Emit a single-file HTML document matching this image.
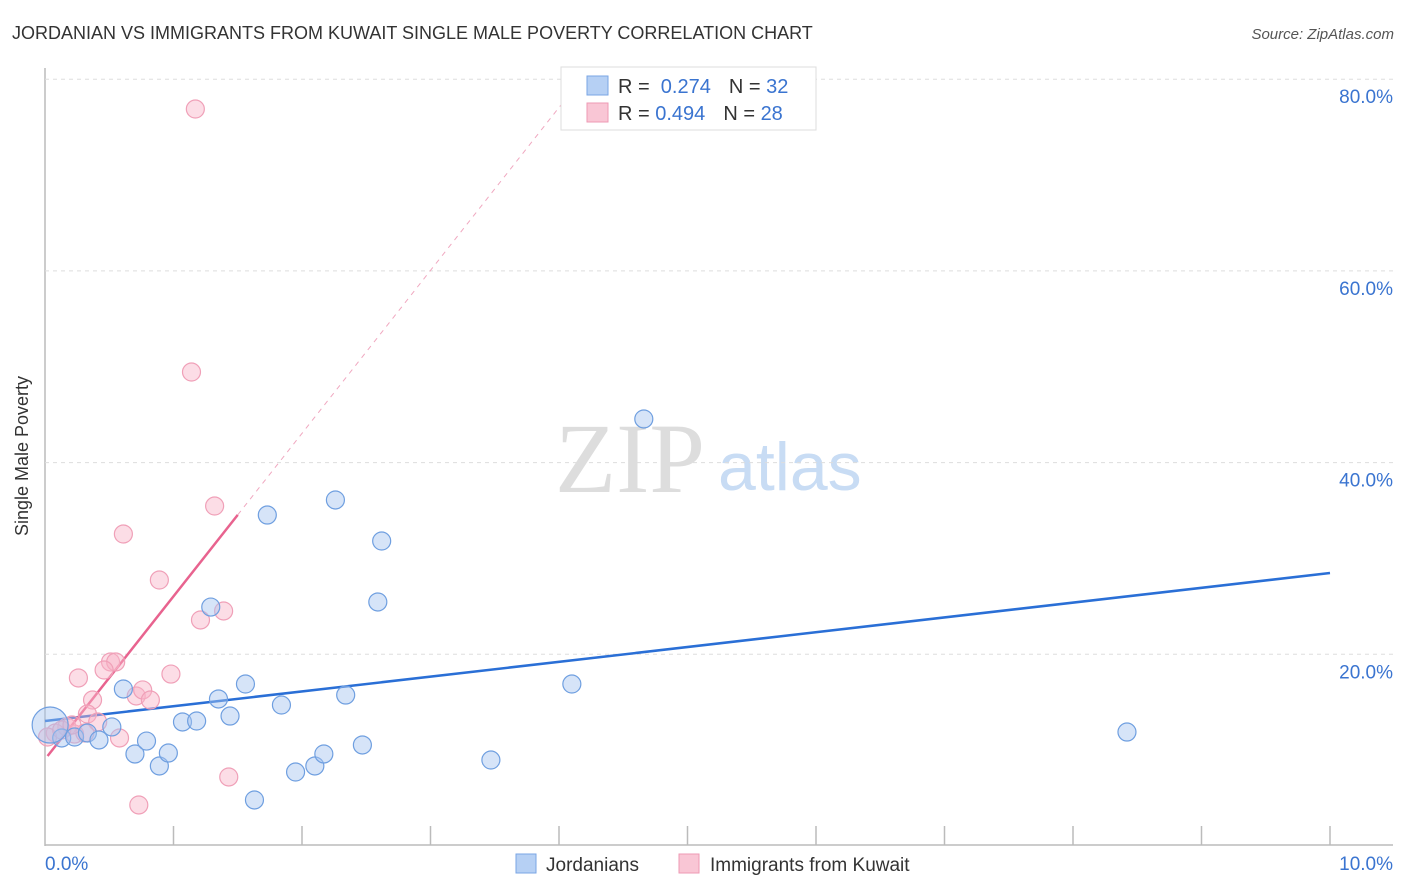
<!DOCTYPE html>
<html><head><meta charset="utf-8"><style>
body{margin:0;background:#fff;font-family:"Liberation Sans",sans-serif;}
#wrap{position:relative;width:1406px;height:892px;overflow:hidden}
</style></head><body>
<div id="wrap">
<svg id="svg" width="1406" height="892" xmlns="http://www.w3.org/2000/svg">
<text x="12" y="39" font-size="18" fill="#333">JORDANIAN VS IMMIGRANTS FROM KUWAIT SINGLE MALE POVERTY CORRELATION CHART</text>
<text x="1394" y="39" font-size="15" fill="#555" font-style="italic" text-anchor="end">Source: ZipAtlas.com</text>
<text x="28" y="456" font-size="18" fill="#333" text-anchor="middle" transform="rotate(-90 28 456)">Single Male Poverty</text>
<text x="555" y="492" font-size="100" fill="#ddd" font-family="Liberation Serif,serif">ZIP</text>
<text x="718" y="490" font-size="68" fill="#c8dcf4">atlas</text>
<g id="grid"></g><g id="lines"></g><g id="pts"></g>
<g>
<rect x="561" y="67" width="255" height="63" fill="#fff" stroke="#ddd"/>
<rect x="587" y="76" width="21" height="19" fill="#b6d0f4" stroke="#7aa6e4"/>
<rect x="587" y="103" width="21" height="19" fill="#f9c6d5" stroke="#ee9ab4"/>
<text x="618" y="93" font-size="20" fill="#333">R = <tspan fill="#3a74d0">&#160;0.274</tspan><tspan dx="18">N = </tspan><tspan fill="#3a74d0">32</tspan></text>
<text x="618" y="120" font-size="20" fill="#333">R = <tspan fill="#3a74d0">0.494</tspan><tspan dx="18">N = </tspan><tspan fill="#3a74d0">28</tspan></text>
</g>
<g>
<rect x="516" y="854" width="20" height="19" fill="#b6d0f4" stroke="#7aa6e4"/>
<text x="546" y="871" font-size="19" fill="#333">Jordanians</text>
<rect x="679" y="854" width="20" height="19" fill="#f9c6d5" stroke="#ee9ab4"/>
<text x="710" y="871" font-size="19" fill="#333">Immigrants from Kuwait</text>
</g>
</svg>
</div>
<script>
const xTicks=[0,1,2,3,4,5,6,7,8,9,10];
const yTicks=[20,40,60,80];
const yTickLabels=["20.0%","40.0%","60.0%","80.0%"];
const xLabels=["0.0%","10.0%"];
const blueX=[0.13,0.23,0.33,0.42,0.52,0.61,0.70,0.79,0.89,0.96,1.07,1.18,1.29,1.35,1.44,1.56,1.63,1.73,1.84,1.95,2.10,2.17,2.26,2.34,2.47,2.59,2.62,3.47,4.10,4.66,8.42,0.04];
const blueY=[11.27,11.37,11.79,11.06,12.42,16.38,9.60,10.95,8.35,9.70,12.94,13.04,24.93,15.34,13.56,16.90,4.80,34.53,14.71,7.72,8.35,9.60,36.10,15.75,10.54,25.46,31.82,8.97,16.90,44.55,11.89,12.62];
const pinkX=[1.17,1.14,0.61,1.32,0.89,1.39,1.21,0.51,0.55,0.46,0.26,0.98,0.37,0.71,0.76,0.82,0.33,0.41,0.58,0.17,0.08,0.02,1.43,0.73,0.23,0.13,0.31,0.21];
const pinkY=[76.89,49.45,32.55,35.47,27.75,24.52,23.58,19.20,19.20,18.36,17.53,17.94,15.23,15.65,16.28,15.23,13.77,12.94,11.27,12.42,11.79,11.37,7.20,4.28,11.68,12.10,11.79,12.62];
const blueTrend=[13.04,1.544]; // intercept, slope
const pinkTrend=[9.05,17.0];
const NS="http://www.w3.org/2000/svg";
const X=v=>45+v*128.5, Y=v=>846-v*9.585;
function mk(t,a,p){const e=document.createElementNS(NS,t);for(const k in a)e.setAttribute(k,a[k]);p.appendChild(e);return e;}
const grid=document.getElementById('grid'),lines=document.getElementById('lines'),pts=document.getElementById('pts');
let ax=mk('line',{x1:45,y1:68,x2:45,y2:846,stroke:'#bbb','stroke-width':1.5},grid);

let bx=mk('line',{x1:45,y1:845,x2:1393,y2:845,stroke:'#bbb','stroke-width':1.5},grid);

yTicks.forEach((v,i)=>{
 let g=mk('line',{x1:45,y1:Y(v),x2:1393,y2:Y(v),stroke:'#ddd','stroke-dasharray':'4,4'},grid);
 
 let t=mk('text',{x:1393,y:Y(v)+24,'font-size':19,fill:'#3a74d0','text-anchor':'end'},grid);t.textContent=yTickLabels[i];
 
});
xTicks.forEach(v=>{if(v===0)return;
 let l=mk('line',{x1:X(v),y1:826,x2:X(v),y2:845,stroke:'#bbb','stroke-width':1.5},grid);
 });
let t0=mk('text',{x:45,y:870,'font-size':19,fill:'#3a74d0'},grid);t0.textContent=xLabels[0];

let t1=mk('text',{x:1393,y:870,'font-size':19,fill:'#3a74d0','text-anchor':'end'},grid);t1.textContent=xLabels[1];

function pt(x,y,fill,stroke,name,r){let c=mk('circle',{cx:X(x),cy:Y(y),r:r,fill:fill,stroke:stroke,'stroke-width':1.2},pts);
 }
pinkX.forEach((x,i)=>pt(x,pinkY[i],'rgba(248,180,200,0.45)','#f0a0b8','kuwait-point',9));
blueX.forEach((x,i)=>pt(x,blueY[i],'rgba(164,196,240,0.45)','#6f9fe0','jordanian-point',i===31?18:9));
let bl=mk('line',{x1:X(0),y1:Y(blueTrend[0]),x2:X(10),y2:Y(blueTrend[0]+blueTrend[1]*10),stroke:'#2a6fd6','stroke-width':2.5},lines);

const pEnd=1.5, pTop=(80-pinkTrend[0])/pinkTrend[1];
let pl=mk('line',{x1:X(0.02),y1:Y(pinkTrend[0]+pinkTrend[1]*0.02),x2:X(pEnd),y2:Y(pinkTrend[0]+pinkTrend[1]*pEnd),stroke:'#e8638f','stroke-width':2.5},lines);

let pd=mk('line',{x1:X(pEnd),y1:Y(pinkTrend[0]+pinkTrend[1]*pEnd),x2:X(pTop),y2:Y(80),stroke:'#f0a8c0','stroke-width':1,'stroke-dasharray':'5,5'},lines);

</script>
</body></html>
